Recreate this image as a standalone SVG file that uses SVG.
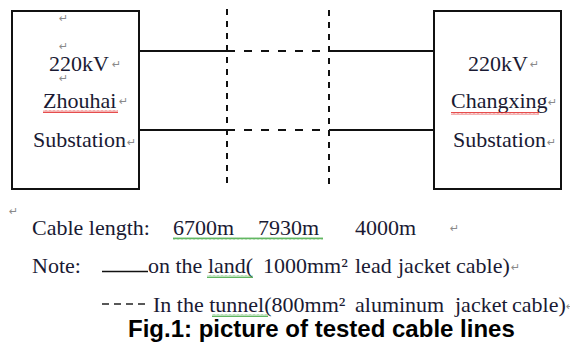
<svg xmlns="http://www.w3.org/2000/svg" width="570" height="342" viewBox="0 0 570 342">
<defs>
<pattern id="wr" width="4" height="3" patternUnits="userSpaceOnUse"><path d="M0 2.5 L1 0.5 L2 2.5 L3 0.5 L4 2.5" stroke="#e02020" stroke-width="0.8" fill="none"/></pattern>
<pattern id="wg" width="4" height="3" patternUnits="userSpaceOnUse"><path d="M0 2.5 L1 0.5 L2 2.5 L3 0.5 L4 2.5" stroke="#3aa53a" stroke-width="0.8" fill="none"/></pattern>
</defs>
<g id="connectors" stroke="#111" stroke-width="2" fill="none">
<line x1="139" y1="51" x2="227" y2="51"/>
<line x1="139" y1="130" x2="227" y2="130"/>
<line x1="329" y1="51" x2="434" y2="51"/>
<line x1="329" y1="130" x2="434" y2="130"/>
<g stroke-dasharray="8 9">
<line x1="227" y1="51" x2="329" y2="51"/>
<line x1="227" y1="130" x2="329" y2="130"/>
</g>
<g stroke-dasharray="6 6">
<line x1="227" y1="9" x2="227" y2="188"/>
<line x1="329" y1="10" x2="329" y2="190"/>
</g>
</g>
<g id="zhouhai">
<rect x="12" y="11" width="127" height="178" fill="#fff" stroke="#111" stroke-width="2"/>
<text x="49" y="71" font-family="Liberation Serif" font-size="22" fill="#1a1a33">220kV</text>
<text x="43" y="108" font-family="Liberation Serif" font-size="22" fill="#1a1a33">Zhouhai</text>
<text x="33" y="147" font-family="Liberation Serif" font-size="22" fill="#1a1a33">Substation</text>
<rect x="43" y="110" width="75" height="3" fill="url(#wr)"/>
<g font-family="DejaVu Sans" font-size="11" fill="#8a8a8a">
<text x="59" y="22">↵</text>
<text x="59" y="50">↵</text>
<text x="112" y="68">↵</text>
<text x="59" y="82">↵</text>
<text x="119" y="105">↵</text>
<text x="127" y="146">↵</text>
</g>
</g>
<g id="changxing">
<rect x="434" y="11" width="127" height="178" fill="#fff" stroke="#111" stroke-width="2"/>
<text x="468" y="71" font-family="Liberation Serif" font-size="22" fill="#1a1a33">220kV</text>
<text x="451" y="108" font-family="Liberation Serif" font-size="22" fill="#1a1a33">Changxing</text>
<text x="453" y="147" font-family="Liberation Serif" font-size="22" fill="#1a1a33">Substation</text>
<rect x="451" y="112" width="88" height="3" fill="url(#wr)"/>
<g font-family="DejaVu Sans" font-size="11" fill="#8a8a8a">
<text x="530" y="68">↵</text>
<text x="548" y="106">↵</text>
<text x="547" y="146">↵</text>
</g>
</g>
<g id="legend">
<text y="235" font-family="Liberation Serif" font-size="22" fill="#1a1a33"><tspan x="32">Cable length:</tspan><tspan x="173">6700m</tspan><tspan x="258">7930m</tspan><tspan x="355">4000m</tspan></text>
<text y="273" font-family="Liberation Serif" font-size="22" fill="#1a1a33"><tspan x="32">Note:</tspan><tspan x="148">on the land(</tspan><tspan x="263">1000mm²</tspan><tspan x="355">lead</tspan><tspan x="398">jacket</tspan><tspan x="456">cable)</tspan></text>
<text y="312" font-family="Liberation Serif" font-size="22" fill="#1a1a33"><tspan x="153">In the tunnel(800mm²</tspan><tspan x="355">aluminum</tspan><tspan x="455">jacket</tspan><tspan x="512">cable)</tspan></text>
<g font-family="DejaVu Sans" font-size="11" fill="#8a8a8a">
<text x="9" y="215">↵</text>
<text x="450" y="232">↵</text>
<text x="511" y="271">↵</text>
<text x="566" y="310">↵</text>
</g>
<rect x="173" y="237" width="150" height="3" fill="url(#wg)"/>
<rect x="207" y="275" width="46" height="3" fill="url(#wg)"/>
<rect x="212" y="314" width="56" height="3" fill="url(#wg)"/>
<line x1="102" y1="271.5" x2="148" y2="271.5" stroke="#111" stroke-width="1.5"/>
<line x1="102" y1="304" x2="150" y2="304" stroke="#222" stroke-width="1.5" stroke-dasharray="7 5"/>
<text x="128" y="337" font-family="Liberation Sans" font-size="24" font-weight="bold" fill="#000">Fig.1: picture of tested cable lines</text>
</g>
</svg>
